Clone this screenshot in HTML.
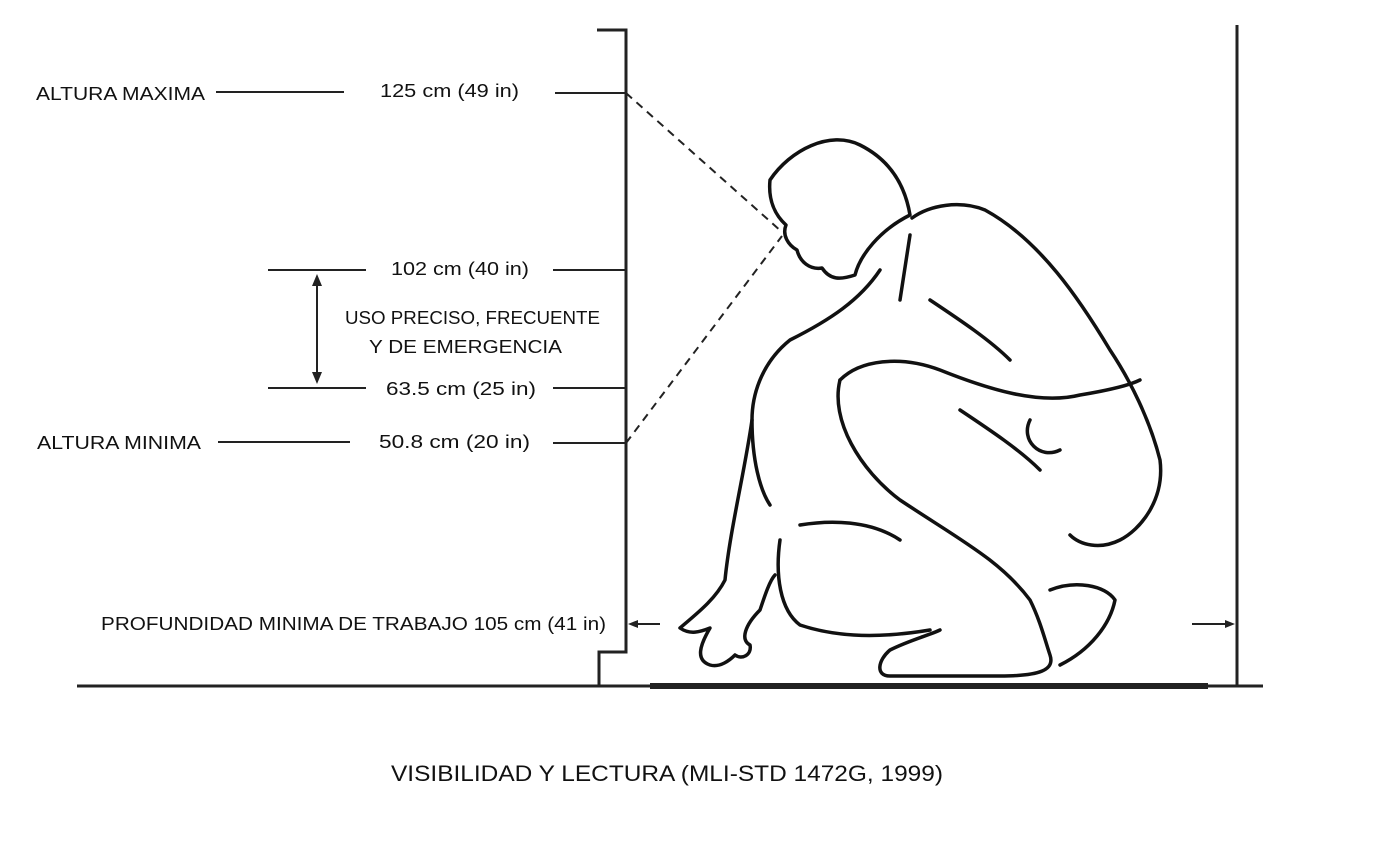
<!DOCTYPE html>
<html><head><meta charset="utf-8"><style>
body{margin:0;background:#fff;width:1384px;height:856px;overflow:hidden}
svg{display:block}
text{font-family:"Liberation Sans",sans-serif;fill:#111}
</style></head><body>
<svg width="1384" height="856" viewBox="0 0 1384 856">
<g stroke="#222" fill="none" stroke-width="2">
<path d="M597 30H626V652H599V686" stroke-width="3"/>
<line x1="1237" y1="25" x2="1237" y2="686" stroke-width="3"/>
<line x1="77" y1="686" x2="1263" y2="686" stroke-width="3"/>
<line x1="650" y1="686" x2="1208" y2="686" stroke-width="6"/>
<line x1="216" y1="92" x2="344" y2="92"/>
<line x1="555" y1="93" x2="626" y2="93"/>
<line x1="268" y1="270" x2="366" y2="270"/>
<line x1="553" y1="270" x2="626" y2="270"/>
<line x1="268" y1="388" x2="366" y2="388"/>
<line x1="553" y1="388" x2="626" y2="388"/>
<line x1="218" y1="442" x2="350" y2="442"/>
<line x1="553" y1="443" x2="626" y2="443"/>
<line x1="317" y1="280" x2="317" y2="378"/>
<line x1="660" y1="624" x2="636" y2="624"/>
<line x1="1192" y1="624" x2="1226" y2="624"/>
<line x1="626" y1="93" x2="782" y2="232" stroke-dasharray="8,6"/>
<line x1="626" y1="443" x2="782" y2="236" stroke-dasharray="8,6"/>
</g>
<g fill="#222">
<polygon points="317,274 312,286 322,286"/>
<polygon points="317,384 312,372 322,372"/>
<polygon points="628,624 638,620 638,628"/>
<polygon points="1235,624 1225,620 1225,628"/>
</g>
<g stroke="#111" fill="none" stroke-width="3.5" stroke-linejoin="round" stroke-linecap="round">
<path d="M770 180C790 150 830 130 860 145C890 160 905 185 910 215C880 230 860 255 855 275C840 280 830 280 822 268C810 270 800 262 797 250C788 245 782 235 786 225C775 215 768 200 770 180Z"/>
<path d="M912 218C930 205 960 200 985 210C1040 240 1080 300 1110 350C1130 380 1150 420 1160 460C1165 500 1140 530 1120 540C1100 550 1080 545 1070 535"/>
<path d="M880 270C860 300 830 320 790 340C765 360 752 390 752 420C752 460 760 490 770 505"/>
<path d="M840 380C830 420 860 470 900 500C960 540 1000 560 1030 600C1040 620 1045 640 1050 655C1055 670 1040 676 1000 676H890C875 676 878 660 890 650C910 640 930 635 940 630"/>
<path d="M840 380C860 360 900 355 940 370C990 390 1040 405 1080 395C1110 390 1130 385 1140 380"/>
<path d="M780 540C775 575 780 610 800 625C830 635 870 640 930 630"/>
<path d="M800 525C830 520 870 520 900 540"/>
<path d="M1050 590C1075 580 1105 585 1115 600C1110 625 1090 650 1060 665"/>
<path d="M752 420C745 470 730 530 725 580C715 600 695 615 680 628C690 635 700 632 710 628C700 645 695 660 710 665C720 668 730 660 735 655C742 660 752 655 750 645C740 640 745 625 760 610C765 595 770 580 775 575"/>
<path d="M910 235L900 300M930 300C960 320 990 340 1010 360M960 410C990 430 1020 450 1040 470M1030 420C1020 440 1040 460 1060 450"/>
</g>
<g font-size="18" lengthAdjust="spacingAndGlyphs">
<text x="36" y="100" textLength="169" lengthAdjust="spacingAndGlyphs">ALTURA MAXIMA</text>
<text x="380" y="97" textLength="139" lengthAdjust="spacingAndGlyphs">125 cm (49 in)</text>
<text x="391" y="275" textLength="138" lengthAdjust="spacingAndGlyphs">102 cm (40 in)</text>
<text x="345" y="324" textLength="255" lengthAdjust="spacingAndGlyphs">USO PRECISO, FRECUENTE</text>
<text x="369" y="353" textLength="193" lengthAdjust="spacingAndGlyphs">Y DE EMERGENCIA</text>
<text x="386" y="395" textLength="150" lengthAdjust="spacingAndGlyphs">63.5  cm (25 in)</text>
<text x="37" y="449" textLength="164" lengthAdjust="spacingAndGlyphs">ALTURA MINIMA</text>
<text x="379" y="448" textLength="151" lengthAdjust="spacingAndGlyphs">50.8  cm (20 in)</text>
<text x="101" y="630" textLength="505" lengthAdjust="spacingAndGlyphs">PROFUNDIDAD MINIMA DE TRABAJO 105 cm (41 in)</text>
</g>
<text x="391" y="781" font-size="22" textLength="552" lengthAdjust="spacingAndGlyphs">VISIBILIDAD Y LECTURA (MLI-STD 1472G, 1999)</text>
</svg>
</body></html>
